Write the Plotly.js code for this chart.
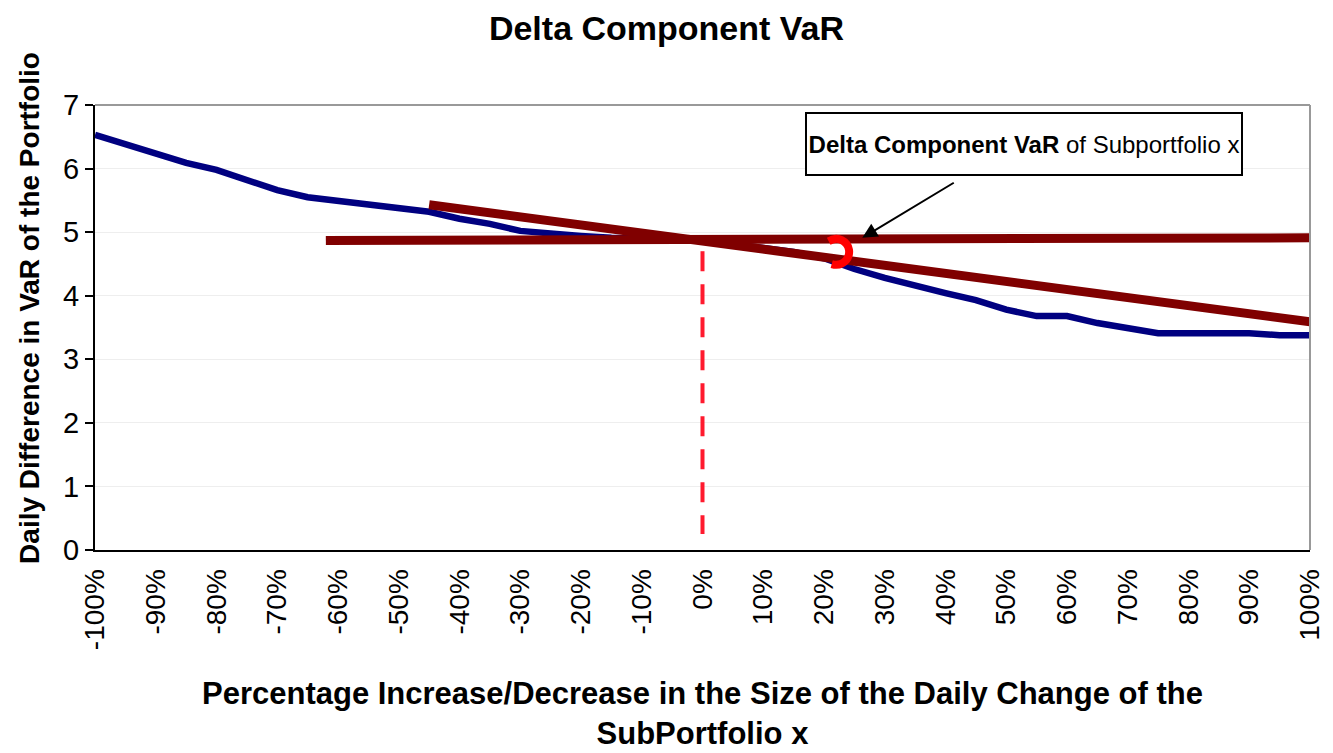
<!DOCTYPE html>
<html>
<head>
<meta charset="utf-8">
<script src="https://cdn.plot.ly/plotly-3.0.1.min.js"></script>
<style>html,body{margin:0;padding:0;background:#fff;}#chart{width:1333px;height:753px;}</style>
</head>
<body>
<div id="chart"></div>
<script>
// ---- data ----
const sizeChange = [-100,-95,-90,-85,-80,-75,-70,-65,-60,-55,-50,-45,-40,-35,-30,-25,-20,-15,-10,-5,0,5,10,15,20,25,30,35,40,45,50,55,60,65,70,75,80,85,90,95,100];
const varDifference = [6.53,6.39,6.25,6.09,5.98,5.82,5.66,5.55,5.49,5.44,5.38,5.32,5.21,5.13,5.02,4.97,4.94,4.91,4.89,4.88,4.86,4.81,4.75,4.69,4.59,4.42,4.28,4.15,4.04,3.93,3.78,3.68,3.68,3.57,3.49,3.41,3.41,3.41,3.41,3.38,3.38];
const levelX = [-62, 100];
const levelY = [4.87, 4.91];
const tangentX = [-45, 100];
const tangentY = [5.43, 3.59];
const dropX = [0, 0];
const dropY = [4.70, 0.25];
const arcCenter = [22.0, 4.69];
const arcAngles = [125, 95, 65, 35, 10, -15, -40, -65, -90, -110];
const xTickVals = [-100,-90,-80,-70,-60,-50,-40,-30,-20,-10,0,10,20,30,40,50,60,70,80,90,100];
const xTickText = xTickVals.map(v => v + '%');
const yTickVals = [0,1,2,3,4,5,6,7];

// arc drawn with the same px scale as axes (approx px per unit)
const pxPerX = 1215 / 200, pxPerY = 445 / 7, arcR = 13;
const arcX = arcAngles.map(a => arcCenter[0] + arcR * Math.cos(a * Math.PI / 180) / pxPerX);
const arcY = arcAngles.map(a => arcCenter[1] + arcR * Math.sin(a * Math.PI / 180) / pxPerY);

const sans = 'Liberation Sans, Arial, sans-serif';

const traces = [
  {x: sizeChange, y: varDifference, mode: 'lines', line: {color: '#000080', width: 6.5}, hoverinfo: 'skip'},
  {x: dropX, y: dropY, mode: 'lines', line: {color: '#ff1a2e', width: 4, dash: '20px,13px'}, hoverinfo: 'skip'},
  {x: levelX, y: levelY, mode: 'lines', line: {color: '#800000', width: 9}, hoverinfo: 'skip'},
  {x: tangentX, y: tangentY, mode: 'lines', line: {color: '#800000', width: 9}, hoverinfo: 'skip'},
  {x: arcX, y: arcY, mode: 'lines', line: {color: '#ff0000', width: 8, shape: 'spline'}, hoverinfo: 'skip'}
];

const layout = {
  width: 1333, height: 753,
  margin: {l: 95, r: 23, t: 105, b: 203},
  paper_bgcolor: '#fff', plot_bgcolor: '#fff',
  showlegend: false,
  title: {text: '<b>Delta Component VaR</b>', x: 0.5, xref: 'container', y: 0.963, yanchor: 'middle',
          font: {family: sans, size: 34, color: '#000'}},
  xaxis: {range: [-100, 100], tickvals: xTickVals, ticktext: xTickText, tickangle: -90,
          showgrid: false, zeroline: false, showline: true, linecolor: '#000', linewidth: 2,
          ticks: '', ticklabelstandoff: 6, tickfont: {family: sans, size: 28, color: '#000'}, fixedrange: true},
  yaxis: {range: [0, 7], tickvals: yTickVals, showgrid: true, gridcolor: '#eeeeee', gridwidth: 1,
          zeroline: false, showline: true, linecolor: '#000', linewidth: 2,
          ticks: 'outside', ticklen: 8, tickwidth: 2, tickcolor: '#000',
          tickfont: {family: sans, size: 29, color: '#000'}, fixedrange: true},
  shapes: [
    {type: 'line', xref: 'paper', yref: 'paper', x0: 0, x1: 1, y0: 1, y1: 1, line: {color: '#999', width: 2}},
    {type: 'line', xref: 'paper', yref: 'paper', x0: 1, x1: 1, y0: 0, y1: 1, line: {color: '#999', width: 2}}
  ],
  annotations: [
    {xref: 'paper', yref: 'paper', x: 0.5, y: -0.3685, yanchor: 'middle', showarrow: false,
     text: '<b>Percentage Increase/Decrease in the Size of the Daily Change of the<br>SubPortfolio x</b>',
     font: {family: sans, size: 31, color: '#000'}},
    {xref: 'paper', yref: 'paper', x: -0.0535, y: 0.544, xanchor: 'center', yanchor: 'middle', showarrow: false,
     textangle: -90, text: '<b>Daily Difference in VaR of the Portfolio</b>',
     font: {family: sans, size: 28, color: '#000'}},
    {x: 26.3, y: 4.91, ax: 93, ay: -56, text: '', showarrow: true, arrowhead: 2, arrowsize: 1.5,
     arrowwidth: 2, arrowcolor: '#000'},
    {x: 52.9, y: 6.39, showarrow: false, xanchor: 'center', yanchor: 'middle',
     text: '<b>Delta Component VaR</b> of Subportfolio x',
     font: {family: sans, size: 24, color: '#000'},
     bgcolor: '#fff', bordercolor: '#000', borderwidth: 2, width: 432, height: 58}
  ]
};

Plotly.newPlot('chart', traces, layout, {displayModeBar: false, staticPlot: true});
</script>
</body>
</html>
